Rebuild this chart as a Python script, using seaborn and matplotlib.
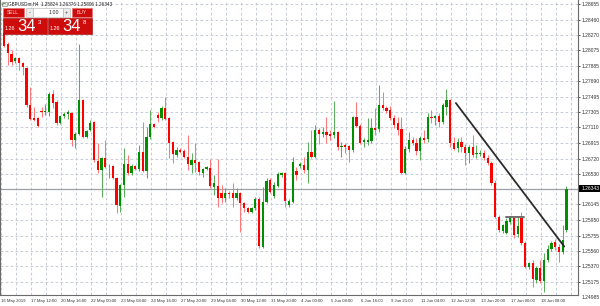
import numpy as np
import pandas as pd
import matplotlib
matplotlib.use("Agg")
import matplotlib.pyplot as plt
import seaborn as sns
from matplotlib.patches import Rectangle
import matplotlib.transforms as mtransforms

# ---------------- data (GBPUSDm, H4) ----------------
opens = [1.28292, 1.28154, 1.28029, 1.27941, 1.27979, 1.27916, 1.27854, 1.27390, 1.27228, 1.27228,
         1.27315, 1.27303, 1.27303, 1.27528, 1.27428, 1.27165, 1.27253, 1.27278, 1.27290, 1.26952,
         1.27027, 1.27453, 1.26990, 1.27077, 1.27178, 1.26689, 1.26577, 1.26727, 1.26621, 1.26627,
         1.26476, 1.26126, 1.26389, 1.26652, 1.26539, 1.26627, 1.26589, 1.26802, 1.26564, 1.26990,
         1.27153, 1.27265, 1.27228, 1.27353, 1.27228, 1.26927, 1.26764, 1.26827, 1.26815, 1.26739,
         1.26639, 1.26702, 1.26677, 1.26539, 1.26589, 1.26602, 1.26364, 1.26376, 1.26289, 1.26226,
         1.26289, 1.26289, 1.26226, 1.26289, 1.26164, 1.26101, 1.26051, 1.26101, 1.26214, 1.25613,
         1.26176, 1.26451, 1.26251, 1.26376, 1.26514, 1.26539, 1.26138, 1.26176, 1.26564, 1.26627,
         1.26639, 1.26577, 1.26802, 1.26739, 1.27077, 1.27027, 1.27052, 1.27027, 1.27015, 1.27052,
         1.26865, 1.26890, 1.26877, 1.26827, 1.27240, 1.27128, 1.26927, 1.26927, 1.26940, 1.27102,
         1.27090, 1.27390, 1.27353, 1.27328, 1.27228, 1.27165, 1.27090, 1.26539, 1.26840, 1.26952,
         1.26915, 1.26815, 1.26977, 1.26965, 1.27240, 1.27228, 1.27253, 1.27178, 1.27365, 1.27453,
         1.26915, 1.26852, 1.26927, 1.26865, 1.26789, 1.26865, 1.26777, 1.26777, 1.26789, 1.26727,
         1.26664, 1.26414, 1.25988, 1.25813, 1.25788, 1.25926, 1.25976, 1.25775, 1.25976, 1.25663,
         1.25362, 1.25412, 1.25199, 1.25350, 1.25187, 1.25450, 1.25587, 1.25675, 1.25613, 1.25550,
         1.25824]
highs = [1.28342, 1.28179, 1.28079, 1.27991, 1.27991, 1.27929, 1.27866, 1.27616, 1.27365, 1.27240,
         1.27365, 1.27403, 1.27553, 1.27578, 1.27453, 1.27240, 1.27303, 1.27328, 1.27303, 1.27052,
         1.28154, 1.27466, 1.27077, 1.27203, 1.27190, 1.26915, 1.26739, 1.26952, 1.26652, 1.26639,
         1.26489, 1.26401, 1.26852, 1.26764, 1.26652, 1.26639, 1.26890, 1.27178, 1.27115, 1.27328,
         1.27165, 1.27303, 1.27378, 1.27491, 1.27240, 1.26940, 1.26865, 1.26852, 1.26840, 1.27015,
         1.26789, 1.26915, 1.26689, 1.26602, 1.26627, 1.26714, 1.26514, 1.26714, 1.26389, 1.26351,
         1.26314, 1.26414, 1.26351, 1.26301, 1.26176, 1.26113, 1.26113, 1.26239, 1.26239, 1.26364,
         1.26476, 1.26476, 1.26426, 1.26552, 1.26552, 1.26552, 1.26214, 1.26739, 1.26614, 1.26677,
         1.26739, 1.26927, 1.27077, 1.27140, 1.27102, 1.27115, 1.27240, 1.27077, 1.27441, 1.27065,
         1.26927, 1.26915, 1.26890, 1.27253, 1.27428, 1.27153, 1.26977, 1.27228, 1.27228, 1.27353,
         1.27641, 1.27553, 1.27378, 1.27378, 1.27265, 1.27240, 1.27240, 1.26877, 1.27052, 1.26990,
         1.26977, 1.27002, 1.27077, 1.27290, 1.27328, 1.27265, 1.27290, 1.27415, 1.27591, 1.27466,
         1.26990, 1.26977, 1.26990, 1.26902, 1.26890, 1.27015, 1.26890, 1.26827, 1.26827, 1.26764,
         1.26689, 1.26451, 1.26013, 1.25901, 1.25976, 1.26001, 1.26001, 1.25988, 1.26051, 1.25688,
         1.25425, 1.25450, 1.25375, 1.25450, 1.25537, 1.25638, 1.25688, 1.25713, 1.25650, 1.25888,
         1.26376]
lows = [1.28117, 1.27891, 1.27891, 1.27916, 1.27829, 1.27766, 1.27365, 1.27203, 1.27190, 1.27115,
        1.27240, 1.27265, 1.27253, 1.27353, 1.27140, 1.27153, 1.27228, 1.27215, 1.26877, 1.26852,
        1.27015, 1.26977, 1.26977, 1.27065, 1.26677, 1.26539, 1.26239, 1.26602, 1.26476, 1.26464,
        1.26038, 1.26051, 1.26239, 1.26514, 1.26514, 1.26577, 1.26564, 1.26552, 1.26476, 1.26965,
        1.27102, 1.27178, 1.27203, 1.27203, 1.26727, 1.26664, 1.26739, 1.26789, 1.26727, 1.26577,
        1.26539, 1.26552, 1.26514, 1.26489, 1.26577, 1.26351, 1.26264, 1.26113, 1.26164, 1.26176,
        1.26226, 1.26113, 1.26201, 1.25800, 1.26051, 1.26038, 1.26038, 1.26076, 1.25600, 1.25600,
        1.26164, 1.26289, 1.26226, 1.26364, 1.26489, 1.26113, 1.26113, 1.26164, 1.26451, 1.26602,
        1.26539, 1.26414, 1.26727, 1.26727, 1.26902, 1.26990, 1.26915, 1.26952, 1.26977, 1.26827,
        1.26739, 1.26789, 1.26677, 1.26802, 1.27115, 1.26902, 1.26865, 1.26890, 1.26915, 1.27015,
        1.27052, 1.27328, 1.27290, 1.27203, 1.27102, 1.27015, 1.26527, 1.26527, 1.26802, 1.26890,
        1.26764, 1.26702, 1.26915, 1.26927, 1.27165, 1.27140, 1.27115, 1.27153, 1.27265, 1.26865,
        1.26827, 1.26802, 1.26802, 1.26639, 1.26664, 1.26739, 1.26727, 1.26752, 1.26702, 1.26639,
        1.26389, 1.25976, 1.25800, 1.25788, 1.25775, 1.25901, 1.25725, 1.25738, 1.25638, 1.25350,
        1.25337, 1.25112, 1.25162, 1.25162, 1.25049, 1.25425, 1.25562, 1.25575, 1.25425, 1.25525,
        1.25806]
closes = [1.28129, 1.28041, 1.27929, 1.27979, 1.27916, 1.27866, 1.27390, 1.27215, 1.27203, 1.27128,
          1.27303, 1.27315, 1.27528, 1.27415, 1.27165, 1.27253, 1.27278, 1.27303, 1.26952, 1.27027,
          1.27453, 1.26990, 1.27065, 1.27165, 1.26702, 1.26577, 1.26727, 1.26614, 1.26627, 1.26476,
          1.26138, 1.26389, 1.26652, 1.26539, 1.26627, 1.26589, 1.26802, 1.26564, 1.26990, 1.27153,
          1.27115, 1.27228, 1.27353, 1.27215, 1.26915, 1.26777, 1.26827, 1.26802, 1.26739, 1.26652,
          1.26702, 1.26664, 1.26552, 1.26589, 1.26614, 1.26376, 1.26414, 1.26226, 1.26226, 1.26289,
          1.26276, 1.26226, 1.26289, 1.26164, 1.26101, 1.26051, 1.26101, 1.26214, 1.25625, 1.26176,
          1.26439, 1.26301, 1.26389, 1.26527, 1.26539, 1.26189, 1.26189, 1.26677, 1.26514, 1.26652,
          1.26577, 1.26802, 1.26739, 1.27077, 1.27027, 1.27052, 1.27015, 1.27002, 1.27052, 1.26865,
          1.26877, 1.26865, 1.26827, 1.27240, 1.27128, 1.26915, 1.26952, 1.26952, 1.27102, 1.27077,
          1.27390, 1.27353, 1.27315, 1.27228, 1.27140, 1.27077, 1.26539, 1.26840, 1.26952, 1.26915,
          1.26815, 1.26977, 1.26952, 1.27240, 1.27228, 1.27253, 1.27178, 1.27390, 1.27453, 1.26915,
          1.26840, 1.26927, 1.26865, 1.26789, 1.26865, 1.26764, 1.26789, 1.26789, 1.26727, 1.26664,
          1.26414, 1.25988, 1.25825, 1.25888, 1.25938, 1.25976, 1.25763, 1.25876, 1.25663, 1.25362,
          1.25412, 1.25212, 1.25350, 1.25187, 1.25450, 1.25587, 1.25663, 1.25613, 1.25550, 1.25700,
          1.26343]

price_labels = [1.28655, 1.28460, 1.28270, 1.28075, 1.27885, 1.27690, 1.27495, 1.27305, 1.27110,
                1.26915, 1.26720, 1.26530, 1.26145, 1.25950, 1.25755, 1.25560, 1.25370, 1.25175]
hidden_level = 1.26335
bottom_label = 1.24985

time_labels = ["16 May 2019", "17 May 12:00", "20 May 16:00", "22 May 00:00", "23 May 08:00",
               "24 May 16:00", "27 May 20:00", "29 May 04:00", "30 May 12:00", "31 May 20:00",
               "4 Jun 00:00", "5 Jun 08:00", "6 Jun 16:00", "9 Jun 21:00", "11 Jun 04:00",
               "12 Jun 12:00", "13 Jun 20:00", "17 Jun 00:00", "18 Jun 08:00"]
bars_per_label = 8

current_price = 1.26343
trend_bars = [120.5, 149.4]
trend_prices = [1.27415, 1.25619]
level_bars = [133.9, 138.7]
level_prices = [1.25988, 1.25988]

header = "GBPUSDm,H4  1.25824 1.26376 1.25806 1.26343"
sell_price = ("1.26", "34", "3")
buy_price = ("1.26", "34", "8")
lot_size = "1.00"

# ---------------- style ----------------
sns.set_style("white")
plt.rcParams["font.family"] = ["Liberation Sans", "DejaVu Sans"]
plt.rcParams["lines.scale_dashes"] = False

W, H = 600, 306
fig = plt.figure(figsize=(W / 100, H / 100), dpi=100)
fig.patch.set_facecolor("white")

ax_right_px, ax_bottom_px = 578, 295
ax = fig.add_axes([0, (H - ax_bottom_px) / H, ax_right_px / W, ax_bottom_px / H])
ax.set_facecolor("white")

df = pd.DataFrame({"o": opens, "h": highs, "l": lows, "c": closes})
df["i"] = np.arange(len(df))
df["bull"] = df["c"] >= df["o"]

# grid
grid_col = "#c6ccd6"
for v in price_labels + [hidden_level, bottom_label]:
    ax.axhline(v, color=grid_col, lw=0.7, ls=(0, (2.0, 1.6)), zorder=0)
for k in range(0, 40):
    ax.axvline(4 * k - 0.85, color=grid_col, lw=0.7, ls=(0, (2.0, 1.6)), zorder=0)

# current price line
ax.axhline(current_price, color="#9ea2a8", lw=0.9, zorder=1)

# candles
red, green = "#ff0000", "#008f00"
red_w, green_w = "#ff7878", "#5cae5c"
for bull, bcol, wcol in [(True, green, green_w), (False, red, red_w)]:
    d = df[df["bull"] == bull]
    ax.vlines(d["i"], d["l"], d["h"], color=wcol, lw=0.75, zorder=2)
    bottoms = np.minimum(d["o"], d["c"])
    heights = np.maximum(np.abs(d["c"] - d["o"]), 0.00009)
    ax.bar(d["i"], heights, bottom=bottoms, width=0.62, color=bcol, edgecolor="none",
           zorder=3)

# trend line & level drawn with seaborn
tl = pd.DataFrame({"bar": trend_bars, "price": trend_prices})
sns.lineplot(data=tl, x="bar", y="price", ax=ax, color="#2b2b2b", lw=1.3, zorder=4)
lv = pd.DataFrame({"bar": level_bars, "price": level_prices})
sns.lineplot(data=lv, x="bar", y="price", ax=ax, color="#6e6e6e", lw=1.4, zorder=4)
ax.set_xlabel("")
ax.set_ylabel("")

# limits
ax.set_xlim(-1.07, 153.07)
ax.set_ylim(1.25012, 1.28705)

# axes / ticks
ax.spines["top"].set_visible(False)
for s in ["left", "right", "bottom"]:
    ax.spines[s].set_color("#6a6a6a")
    ax.spines[s].set_linewidth(0.8)

ax.yaxis.tick_right()
ax.set_yticks(price_labels)
ax.set_yticklabels([f"{v:.5f}" for v in price_labels])
ax.tick_params(axis="y", which="major", length=1.6, width=0.6, pad=1.0, labelsize=3.6,
               colors="#333333", direction="out")

xt = [bars_per_label * j - 0.85 for j in range(len(time_labels))]
ax.set_xticks(xt)
ax.set_xticklabels(time_labels)
for lbl in ax.get_xticklabels():
    lbl.set_ha("left")
ax.tick_params(axis="x", which="major", length=1.6, width=0.6, pad=1.2, labelsize=3.1,
               colors="#333333", direction="out")

# bottom price label
btrans = mtransforms.blended_transform_factory(ax.transAxes, ax.transData)
ax.text(1.0 + 3.5 / ax_right_px, bottom_label, f"{bottom_label:.5f}", transform=btrans,
        fontsize=3.6, color="#333333", va="center", ha="left", clip_on=False)

# current price tag
ax.add_patch(Rectangle((1.0 + 0.8 / ax_right_px, current_price - 0.00047), 22 / ax_right_px,
                       0.00094, transform=btrans, facecolor="black", edgecolor="none",
                       clip_on=False, zorder=6))
ax.text(1.0 + 3.5 / ax_right_px, current_price, f"{current_price:.5f}", transform=btrans,
        fontsize=3.6, color="white", va="center", ha="left", clip_on=False, zorder=7)

# ---------------- overlay (header + trade panel) in pixel space ----------------
ov = fig.add_axes([0, 0, 1, 1], zorder=10)
ov.set_xlim(0, W)
ov.set_ylim(H, 0)
ov.axis("off")
ov.patch.set_alpha(0)

# header icon & text
ov.add_patch(Rectangle((1.5, 1.5), 5, 4.5, facecolor="#e8e8e8", edgecolor="#7a7a7a", lw=0.4))
ov.plot([2.5, 4, 5.5], [5, 3, 4], color="#2a8a2a", lw=0.5)
ov.text(8, 4.2, header, fontsize=3.3, color="#222222", va="center", ha="left")

panel_red = "#cf0c0c"
# top row
ov.add_patch(Rectangle((3, 8), 20.5, 9, facecolor=panel_red, edgecolor="#e87070", lw=0.5))
ov.text(13.2, 12.6, "SELL", fontsize=3.6, color="#ffd0d0", ha="center", va="center")
ov.add_patch(Rectangle((26, 8), 7, 9, facecolor="#ececec", edgecolor="#b0b0b0", lw=0.4))
ov.text(29.5, 12.4, "-", fontsize=4, color="#333333", ha="center", va="center")
ov.add_patch(Rectangle((33, 8), 30, 9, facecolor="white", edgecolor="#b0b0b0", lw=0.4))
ov.text(59, 12.6, lot_size, fontsize=3.8, color="#222222", ha="right", va="center")
ov.add_patch(Rectangle((63, 8), 7, 9, facecolor="#ececec", edgecolor="#b0b0b0", lw=0.4))
ov.text(66.5, 12.4, "+", fontsize=4, color="#333333", ha="center", va="center")
ov.add_patch(Rectangle((72, 8), 20, 9, facecolor=panel_red, edgecolor="#e87070", lw=0.5))
ov.text(82, 12.6, "BUY", fontsize=3.6, color="#ffd0d0", ha="center", va="center")

# price boxes
for x0, (small, big, sup) in [(3, sell_price), (48, buy_price)]:
    ov.add_patch(Rectangle((x0, 17.5), 44, 16, facecolor=panel_red, edgecolor="#a00000", lw=0.4))
    ov.text(x0 + 2.0, 30.0, small, fontsize=3.9, color="white", ha="left", va="baseline")
    ov.text(x0 + 14.5, 31.2, big, fontsize=12.0, color="white", ha="left", va="baseline")
    ov.text(x0 + 34.5, 23.5, sup, fontsize=4.3, color="white", ha="left", va="baseline")

fig.savefig("out.png", dpi=100, facecolor="white")
